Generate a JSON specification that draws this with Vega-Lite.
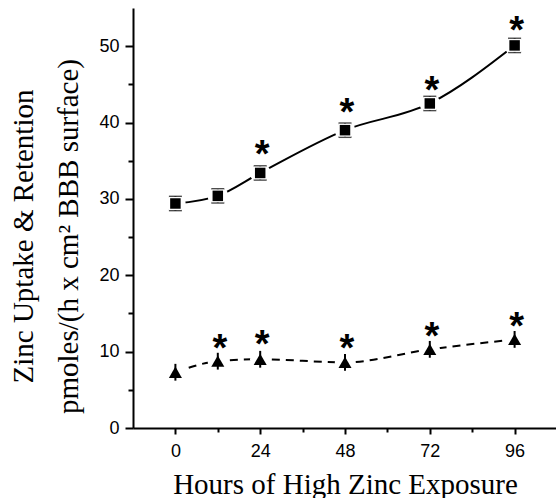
{
  "$schema": "https://vega.github.io/schema/vega-lite/v6.json",
  "width": 424,
  "height": 420,
  "autosize": "none",
  "padding": {"left": 133, "top": 8, "right": 0, "bottom": 70},
  "background": "white",
  "config": {
    "view": {"stroke": null},
    "axis": {
      "grid": false,
      "domainColor": "black",
      "domainWidth": 2,
      "tickColor": "black",
      "tickWidth": 2,
      "labelFont": "Liberation Sans",
      "labelFontSize": 18,
      "labelColor": "black",
      "titleFont": "Liberation Serif",
      "titleFontSize": 29,
      "titleFontWeight": "normal",
      "titleColor": "black",
      "labelFlush": false,
      "labelOverlap": false
    }
  },
  "datasets": {
    "series": [
      {"series": "uptake", "hours": 0, "value": 29.4, "lo": 28.5, "hi": 30.3},
      {"series": "uptake", "hours": 12, "value": 30.4, "lo": 29.5, "hi": 31.3},
      {"series": "uptake", "hours": 24, "value": 33.4, "lo": 32.5, "hi": 34.3},
      {"series": "uptake", "hours": 48, "value": 39.0, "lo": 38.1, "hi": 39.9},
      {"series": "uptake", "hours": 72, "value": 42.5, "lo": 41.6, "hi": 43.4},
      {"series": "uptake", "hours": 96, "value": 50.1, "lo": 49.2, "hi": 51.0},
      {"series": "retention", "hours": 0, "value": 7.3, "lo": 6.2, "hi": 8.4},
      {"series": "retention", "hours": 12, "value": 8.75, "lo": 7.65, "hi": 9.85},
      {"series": "retention", "hours": 24, "value": 9.0, "lo": 7.9, "hi": 10.1},
      {"series": "retention", "hours": 48, "value": 8.6, "lo": 7.5, "hi": 9.7},
      {"series": "retention", "hours": 72, "value": 10.3, "lo": 9.2, "hi": 11.4},
      {"series": "retention", "hours": 96, "value": 11.6, "lo": 10.5, "hi": 12.7}
    ],
    "stars": [
      {"hours": 24, "value": 37.1},
      {"hours": 48, "value": 42.6},
      {"hours": 72, "value": 45.4},
      {"hours": 96, "value": 53.3},
      {"hours": 12, "value": 11.6},
      {"hours": 24, "value": 12.2},
      {"hours": 48, "value": 11.6},
      {"hours": 72, "value": 13.2},
      {"hours": 96, "value": 14.6}
    ]
  },
  "resolve": {"axis": {"x": "independent", "y": "independent"}},
  "encoding": {
    "x": {"field": "hours", "type": "quantitative", "scale": {"domain": [-12, 108], "nice": false, "zero": false}, "axis": null},
    "y": {"field": "value", "type": "quantitative", "scale": {"domain": [0, 55], "nice": false}, "axis": null}
  },
  "layer": [
    {
      "data": {"name": "series"},
      "transform": [{"filter": "datum.series === 'uptake'"}],
      "mark": {"type": "line", "interpolate": "monotone", "color": "black", "strokeWidth": 2},
      "encoding": {
        "x": {
          "field": "hours", "type": "quantitative",
          "scale": {"domain": [-12, 108], "nice": false, "zero": false},
          "axis": {
            "orient": "bottom",
            "values": [0, 24, 48, 72, 96],
            "tickSize": 6,
            "labelPadding": 8,
            "title": "Hours of High Zinc Exposure",
            "titleBaseline": "alphabetic",
            "titleY": 65
          }
        },
        "y": {
          "field": "value", "type": "quantitative",
          "scale": {"domain": [0, 55], "nice": false},
          "axis": {
            "orient": "left",
            "values": [0, 10, 20, 30, 40, 50],
            "tickSize": 8,
            "labelPadding": 6,
            "title": ["Zinc Uptake & Retention", "pmoles/(h x cm² BBB surface)"],
            "titleLineHeight": 45,
            "titleX": -101,
            "titleY": 228,
            "titleAlign": "center",
            "titleBaseline": "alphabetic"
          }
        }
      }
    },
    {
      "data": {"name": "series"},
      "transform": [{"filter": "datum.series === 'retention'"}],
      "mark": {"type": "line", "interpolate": "monotone", "color": "black", "strokeWidth": 2, "strokeDash": [8, 6]},
      "encoding": {
        "x": {
          "field": "hours", "type": "quantitative",
          "scale": {"domain": [-12, 108], "nice": false, "zero": false},
          "axis": {"orient": "bottom", "values": [12, 36, 60, 84], "tickSize": 4, "labels": false, "domain": false, "title": null}
        },
        "y": {
          "field": "value", "type": "quantitative",
          "scale": {"domain": [0, 55], "nice": false},
          "axis": {"orient": "left", "values": [5, 15, 25, 35, 45], "tickSize": 5, "labels": false, "domain": false, "title": null}
        }
      }
    },
    {
      "data": {"name": "series"},
      "mark": {"type": "point", "shape": "circle", "filled": true, "color": "white", "opacity": 1, "size": 420}
    },
    {
      "data": {"name": "series"},
      "transform": [{"filter": "datum.series === 'uptake'"}],
      "mark": {"type": "errorbar", "ticks": {"size": 13, "thickness": 2, "color": "black"}, "rule": {"strokeWidth": 2, "color": "black"}},
      "encoding": {"y": {"field": "lo", "type": "quantitative", "axis": null}, "y2": {"field": "hi"}}
    },
    {
      "data": {"name": "series"},
      "transform": [{"filter": "datum.series === 'retention'"}],
      "mark": {"type": "errorbar", "ticks": false, "rule": {"strokeWidth": 2, "color": "black"}},
      "encoding": {"y": {"field": "lo", "type": "quantitative", "axis": null}, "y2": {"field": "hi"}}
    },
    {
      "data": {"name": "series"},
      "transform": [{"filter": "datum.series === 'uptake'"}],
      "mark": {"type": "point", "shape": "square", "filled": true, "color": "white", "opacity": 1, "size": 169}
    },
    {
      "data": {"name": "series"},
      "transform": [{"filter": "datum.series === 'uptake'"}],
      "mark": {"type": "point", "shape": "square", "filled": true, "color": "black", "opacity": 1, "size": 110}
    },
    {
      "data": {"name": "series"},
      "transform": [{"filter": "datum.series === 'retention'"}],
      "mark": {"type": "point", "shape": "triangle-up", "filled": true, "color": "black", "opacity": 1, "size": 170}
    },
    {
      "data": {"name": "stars"},
      "mark": {"type": "text", "text": "*", "font": "Liberation Sans", "fontWeight": "bold", "fontSize": 38, "baseline": "alphabetic", "align": "center", "dy": 22, "dx": 2, "color": "black"}
    }
  ]
}
